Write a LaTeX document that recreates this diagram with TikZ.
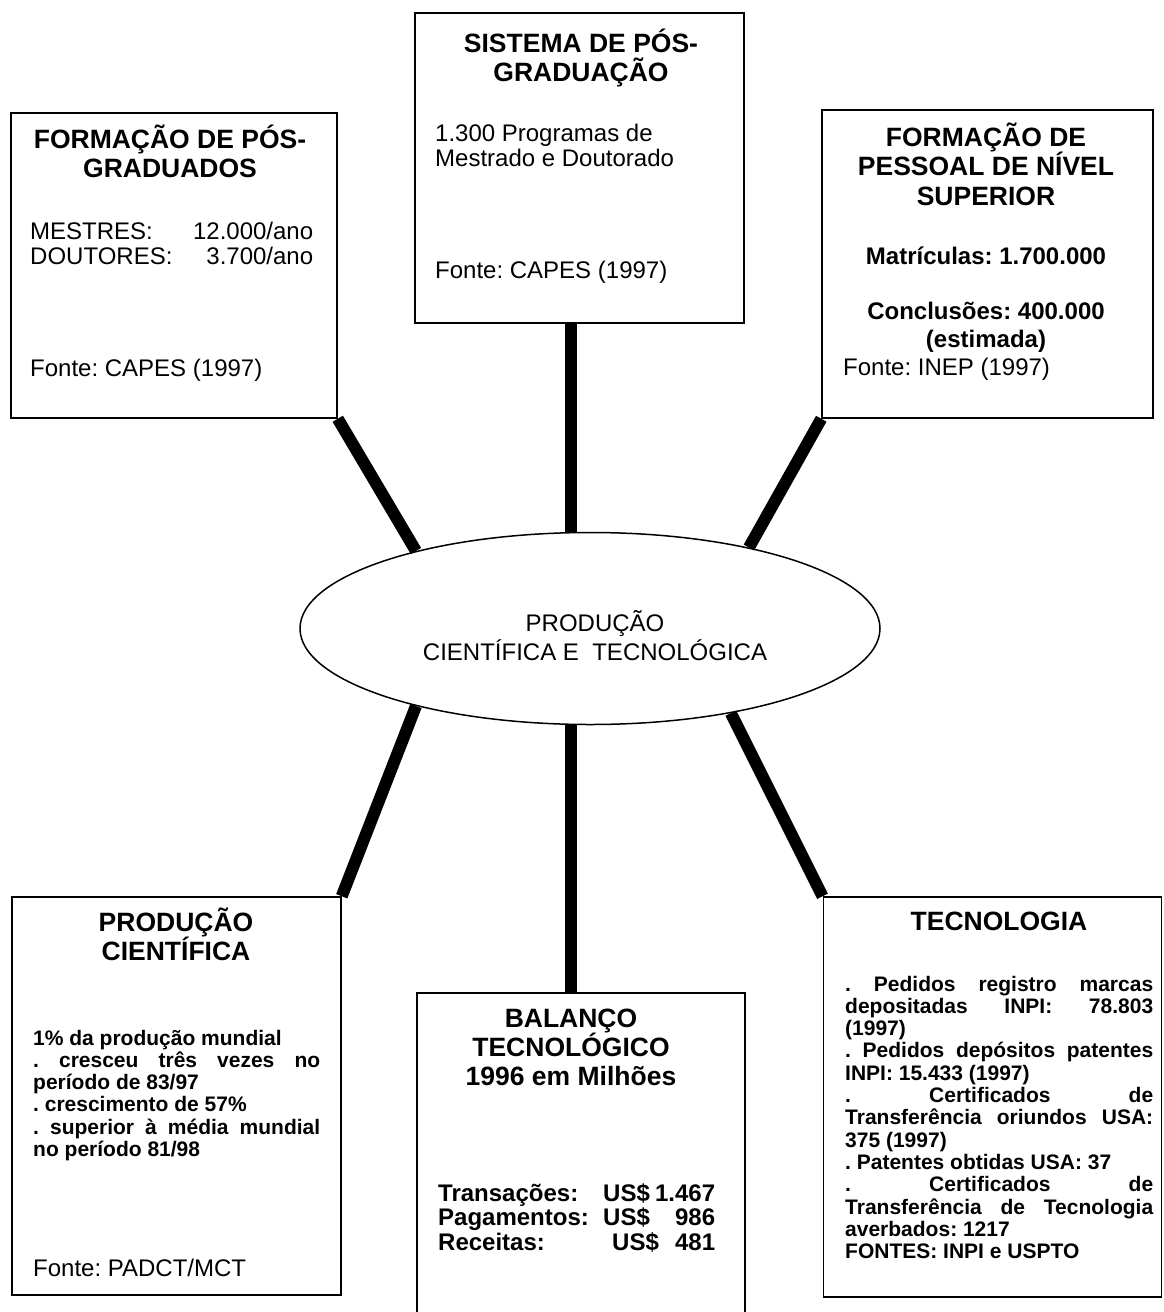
\documentclass[tikz,border=0pt]{standalone}
\usepackage{fontspec}
\setmainfont{Liberation Sans}
\usetikzlibrary{shapes.geometric}
\frenchspacing
\begin{document}
\begin{tikzpicture}[x=1pt,y=-1pt,
  box/.style={draw, line width=1.5pt, rectangle, inner sep=0pt},
  conn/.style={line width=12pt},
  ttl/.style={inner sep=0pt, anchor=base, font=\fontsize{26.5}{29}\selectfont\bfseries},
  txt/.style={inner sep=0pt, anchor=base west, font=\fontsize{24}{25.5}\selectfont},
  btxt/.style={inner sep=0pt, anchor=base west, font=\fontsize{21}{22.3}\selectfont\bfseries},
  ctxt/.style={inner sep=0pt, anchor=base, font=\fontsize{24}{28}\selectfont\bfseries}
]
\useasboundingbox (0,0) rectangle (1163,1312);
\fill[white] (0,0) rectangle (1163,1312);
\clip (0,0) rectangle (1163,1312);

% boxes
\node[box, minimum width=326pt, minimum height=305pt] (box1) at (174,265.5) {};
\node[box, minimum width=329pt, minimum height=310pt] (box2) at (579.5,168) {};
\node[box, minimum width=331pt, minimum height=308pt] (box3) at (987.5,264) {};
\node[box, minimum width=329pt, minimum height=398pt] (box4) at (176.5,1096) {};
\node[box, minimum width=328pt, minimum height=337pt] (box5) at (581,1161.5) {};
\node[box, minimum width=338pt, minimum height=400pt] (box6) at (992.25,1097) {};

% central ellipse
\node[ellipse, draw, line width=1.5pt, minimum width=580pt, minimum height=192pt, inner sep=0pt] (ell) at (590,628.5) {};
\node[inner sep=0pt, anchor=base, font=\fontsize{24}{29}\selectfont] (ellt) at (595,631)
  {\parbox[t]{420pt}{\centering PRODUÇÃO\\CIENTÍFICA E\ \ TECNOLÓGICA}};

% connectors
\draw[conn] (box1.south east) -- (ell.156);
\draw[conn] (ell.101) -- (ell.101 |- box2.south);
\draw[conn] (box3.south west) -- (ell.27);
\draw[conn] (box4.north east) -- (ell.204);
\draw[conn] (ell.259) -- (ell.259 |- box5.north);
\draw[conn] (box6.north west) -- (ell.329);

% box 1
\node[ttl] (t1) at (170,148) {\parbox[t]{320pt}{\centering FORMAÇÃO DE PÓS-\\GRADUADOS}};
\node[txt] (b1) at (30,239) {\parbox[t]{283pt}{MESTRES:\hfill 12.000/ano\\DOUTORES:\hfill 3.700/ano}};
\node[txt] (f1) at (30,376) {Fonte: CAPES (1997)};

% box 2
\node[ttl] (t2) at (581,52) {\parbox[t]{320pt}{\centering SISTEMA DE PÓS-\\GRADUAÇÃO}};
\node[txt] (b2) at (435,141) {\parbox[t]{300pt}{1.300 Programas de\\Mestrado e Doutorado}};
\node[txt] (f2) at (435,278) {Fonte: CAPES (1997)};

% box 3
\node[ttl, font=\fontsize{26.5}{29.5}\selectfont\bfseries] (t3) at (986,146) {\parbox[t]{325pt}{\centering FORMAÇÃO DE\\PESSOAL DE NÍVEL\\SUPERIOR}};
\node[ctxt] (b3a) at (986,264) {Matrículas: 1.700.000};
\node[ctxt] (b3b) at (986,319) {\parbox[t]{300pt}{\centering Conclusões: 400.000\\(estimada)}};
\node[txt] (f3) at (843,375) {Fonte: INEP (1997)};

% box 4
\node[ttl] (t4) at (176,931) {\parbox[t]{320pt}{\centering PRODUÇÃO\\CIENTÍFICA}};
\node[btxt] (b4) at (33,1045) {\parbox[t]{287pt}{%
1\% da produção mundial\\
\makebox[\linewidth][s]{. cresceu três vezes no}\\
período de 83/97\\
. crescimento de 57\%\\
\makebox[\linewidth][s]{. superior à média mundial}\\
no período 81/98}};
\node[txt] (f4) at (33,1276) {Fonte: PADCT/MCT};

% box 5
\node[ttl] (t5) at (571,1027) {\parbox[t]{320pt}{\centering BALANÇO\\TECNOLÓGICO\\1996 em Milhões}};
\node[inner sep=0pt, anchor=base west, font=\fontsize{24}{24.5}\selectfont\bfseries] (b5) at (438,1201) {\parbox[t]{277pt}{%
\makebox[165pt][l]{Transações:}US\$\hfill 1.467\\
\makebox[165pt][l]{Pagamentos:}US\$\hfill 986\\
\makebox[174pt][l]{Receitas:}US\$\hfill 481}};

% box 6
\node[ttl] (t6) at (999,930) {TECNOLOGIA};
\node[btxt] (b6) at (845,991) {\parbox[t]{308pt}{%
\makebox[\linewidth][s]{. Pedidos registro marcas}\\
\makebox[\linewidth][s]{depositadas INPI: 78.803}\\
(1997)\\
\makebox[\linewidth][s]{. Pedidos depósitos patentes}\\
INPI: 15.433 (1997)\\
\makebox[\linewidth][s]{. Certificados de}\\
\makebox[\linewidth][s]{Transferência oriundos USA:}\\
375 (1997)\\
. Patentes obtidas USA: 37\\
\makebox[\linewidth][s]{. Certificados de}\\
\makebox[\linewidth][s]{Transferência de Tecnologia}\\
averbados: 1217\\
FONTES: INPI e USPTO}};
\end{tikzpicture}
\end{document}
